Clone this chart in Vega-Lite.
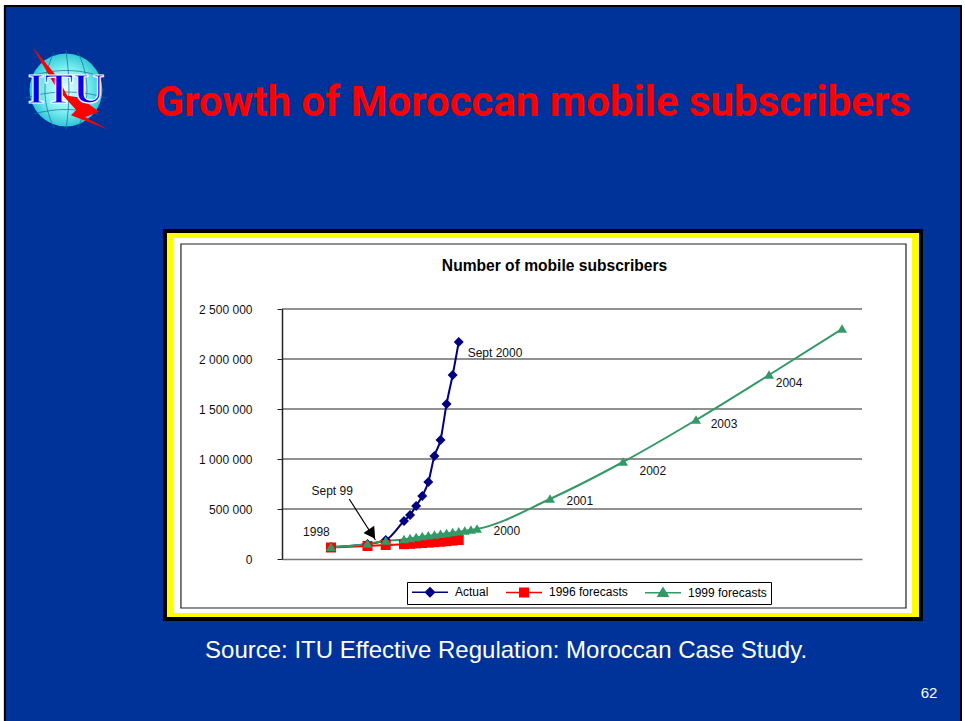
{"$schema":"https://vega.github.io/schema/vega-lite/v6.json","width":580,"height":250,"autosize":"none","padding":{"left":282,"top":309,"right":103,"bottom":162},"background":"#ffffff","resolve":{"scale":{"shape":"independent"}},"datasets":{"series":[{"k":0,"v":120000,"s":"Actual"},{"k":6,"v":150000,"s":"Actual"},{"k":9,"v":190000,"s":"Actual"},{"k":12,"v":380000,"s":"Actual"},{"k":13,"v":440000,"s":"Actual"},{"k":14,"v":530000,"s":"Actual"},{"k":15,"v":630000,"s":"Actual"},{"k":16,"v":770000,"s":"Actual"},{"k":17,"v":1030000,"s":"Actual"},{"k":18,"v":1190000,"s":"Actual"},{"k":19,"v":1550000,"s":"Actual"},{"k":20,"v":1840000,"s":"Actual"},{"k":21,"v":2170000,"s":"Actual"},{"k":0,"v":115000,"s":"1996 forecasts"},{"k":6,"v":130000,"s":"1996 forecasts"},{"k":9,"v":140000,"s":"1996 forecasts"},{"k":12,"v":148000,"s":"1996 forecasts"},{"k":13,"v":152000,"s":"1996 forecasts"},{"k":14,"v":156000,"s":"1996 forecasts"},{"k":15,"v":160000,"s":"1996 forecasts"},{"k":16,"v":164000,"s":"1996 forecasts"},{"k":17,"v":168000,"s":"1996 forecasts"},{"k":18,"v":173000,"s":"1996 forecasts"},{"k":19,"v":178000,"s":"1996 forecasts"},{"k":20,"v":184000,"s":"1996 forecasts"},{"k":21,"v":190000,"s":"1996 forecasts"},{"k":0,"v":118000,"s":"1999 forecasts"},{"k":6,"v":150000,"s":"1999 forecasts"},{"k":9,"v":180000,"s":"1999 forecasts"},{"k":12,"v":195000,"s":"1999 forecasts"},{"k":13,"v":205000,"s":"1999 forecasts"},{"k":14,"v":215000,"s":"1999 forecasts"},{"k":15,"v":224000,"s":"1999 forecasts"},{"k":16,"v":232000,"s":"1999 forecasts"},{"k":17,"v":240000,"s":"1999 forecasts"},{"k":18,"v":248000,"s":"1999 forecasts"},{"k":19,"v":256000,"s":"1999 forecasts"},{"k":20,"v":264000,"s":"1999 forecasts"},{"k":21,"v":272000,"s":"1999 forecasts"},{"k":22,"v":280000,"s":"1999 forecasts"},{"k":23,"v":290000,"s":"1999 forecasts"},{"k":24,"v":300000,"s":"1999 forecasts"},{"k":36,"v":600000,"s":"1999 forecasts"},{"k":48,"v":970000,"s":"1999 forecasts"},{"k":60,"v":1390000,"s":"1999 forecasts"},{"k":72,"v":1840000,"s":"1999 forecasts"},{"k":84,"v":2300000,"s":"1999 forecasts"}],"labels":[{"k":-2.4,"v":270000,"t":"1998"},{"k":0.2,"v":680000,"t":"Sept 99"},{"k":26.96,"v":2060000,"t":"Sept 2000"},{"k":28.9,"v":280000,"t":"2000"},{"k":40.9,"v":580000,"t":"2001"},{"k":52.9,"v":880000,"t":"2002"},{"k":64.6,"v":1350000,"t":"2003"},{"k":75.3,"v":1760000,"t":"2004"}],"arrow":[{"k":3,"v":600000,"k2":7.3,"v2":190000}],"arrowhead":[{"k":6.74,"v":250000}],"slideFill":[{"k":-53.6,"k2":103.55,"v":5530000,"v2":-1810000}],"outer":[{"k":-27.61,"k2":97.3,"v":3300000,"v2":-620000}],"yellow":[{"k":-26.96,"k2":96.65,"v":3260000,"v2":-580000}],"white":[{"k":-25.81,"k2":95.5,"v":3210000,"v2":-540000}],"inner":[{"k":-24.66,"k2":94.51,"v":3150000,"v2":-490000}],"chartTitle":[{"k":36.74,"v":2930000,"t":"Number of mobile subscribers"}],"heading":[{"k":33.2,"v":4560000,"t":"Growth of Moroccan mobile subscribers"}],"source":[{"k":-20.7,"v":-920000,"t":"Source: ITU Effective Regulation: Moroccan Case Study."}],"page":[{"k":98.3,"v":-1340000,"t":"62"}],"globe":[{"k":-43.56,"v":4690000}],"bolt":[{"k":-43.9,"v":4720000}],"logoText":[{"k":-43.56,"v":4690000,"t":"ITU"}]},"config":{"view":{"stroke":null},"font":"Liberation Sans"},"layer":[{"data":{"name":"series"},"mark":{"type":"point","filled":true,"clip":true},"encoding":{"x":{"field":"k","type":"quantitative","scale":{"domain":[-8.05,87.28],"nice":false,"zero":false},"axis":{"zindex":1,"labels":false,"ticks":false,"grid":false,"title":null,"domainColor":"#777777","domainWidth":1.5}},"y":{"field":"v","type":"quantitative","scale":{"domain":[0,2500000],"nice":false,"zero":false},"axis":{"zindex":1,"values":[0,500000,1000000,1500000,2000000,2500000],"title":null,"domain":true,"domainColor":"#222222","domainWidth":1.5,"ticks":true,"tickColor":"#222222","tickSize":5,"labelPadding":25,"labelFont":"Liberation Sans","labelFontSize":12,"labelColor":"#111111","labelExpr":"replace(format(datum.value,','),/,/g,' ')","grid":false}},"fill":{"field":"s","type":"nominal","sort":["Actual","1996 forecasts","1999 forecasts"],"scale":{"domain":["Actual","1996 forecasts","1999 forecasts"],"range":["#000080","#ff0000","#339966"]},"legend":null},"shape":{"field":"s","type":"nominal","sort":["Actual","1996 forecasts","1999 forecasts"],"scale":{"domain":["Actual","1996 forecasts","1999 forecasts"],"range":["M-1,0L1.7,0L2.6,-0.9L3.5,0L6.2,0L3.5,0L2.6,0.9L1.7,0Z","M-1,0L1.75,0L1.75,-0.85L3.45,-0.85L3.45,0L6.2,0L3.45,0L3.45,0.85L1.75,0.85L1.75,0Z","M-1,0L2.02,0L2.6,-0.95L3.18,0L6.2,0L3.18,0L3.6,0.7L1.6,0.7L2.02,0Z"]},"title":null,"legend":{"orient":"none","legendX":125,"legendY":273,"direction":"horizontal","columns":3,"title":null,"fillColor":"#ffffff","strokeColor":"#000000","padding":4,"labelFont":"Liberation Sans","labelFontSize":12,"labelColor":"#000000","symbolSize":100,"columnPadding":14,"labelOffset":32,"symbolOpacity":1,"encoding":{"symbols":{"fill":{"value":{"expr":"{'Actual':'#000080','1996 forecasts':'#ff0000','1999 forecasts':'#339966'}[datum.value]"}},"stroke":{"value":{"expr":"{'Actual':'#000080','1996 forecasts':'#ff0000','1999 forecasts':'#339966'}[datum.value]"}},"strokeWidth":{"value":1.5}}}}}}},{"data":{"name":"slideFill"},"mark":{"type":"rect","fill":"#003399","stroke":"#000000","strokeWidth":2,"clip":false},"encoding":{"x":{"field":"k","type":"quantitative"},"x2":{"field":"k2"},"y":{"field":"v","type":"quantitative"},"y2":{"field":"v2"}}},{"data":{"name":"outer"},"mark":{"type":"rect","fill":"#000000","clip":false},"encoding":{"x":{"field":"k","type":"quantitative"},"x2":{"field":"k2"},"y":{"field":"v","type":"quantitative"},"y2":{"field":"v2"}}},{"data":{"name":"yellow"},"mark":{"type":"rect","fill":"#ffff00","clip":false},"encoding":{"x":{"field":"k","type":"quantitative"},"x2":{"field":"k2"},"y":{"field":"v","type":"quantitative"},"y2":{"field":"v2"}}},{"data":{"name":"white"},"mark":{"type":"rect","fill":"#ffffff","clip":false},"encoding":{"x":{"field":"k","type":"quantitative"},"x2":{"field":"k2"},"y":{"field":"v","type":"quantitative"},"y2":{"field":"v2"}}},{"data":{"name":"inner"},"mark":{"type":"rect","fill":"#ffffff","stroke":"#222222","strokeWidth":1.2,"clip":false},"encoding":{"x":{"field":"k","type":"quantitative"},"x2":{"field":"k2"},"y":{"field":"v","type":"quantitative"},"y2":{"field":"v2"}}},{"data":{"values":[{"v":500000},{"v":1000000},{"v":1500000},{"v":2000000},{"v":2500000}]},"mark":{"type":"rule","color":"#222222","strokeWidth":1},"encoding":{"y":{"field":"v","type":"quantitative"}}},{"data":{"name":"series"},"mark":{"type":"line","interpolate":"monotone","strokeWidth":2,"clip":false},"encoding":{"x":{"field":"k","type":"quantitative"},"y":{"field":"v","type":"quantitative"},"stroke":{"field":"s","type":"nominal","legend":null,"sort":["Actual","1996 forecasts","1999 forecasts"],"scale":{"domain":["Actual","1996 forecasts","1999 forecasts"],"range":["#000080","#ff0000","#339966"]}},"order":{"field":"k"}}},{"data":{"name":"series"},"mark":{"type":"point","filled":true,"size":100,"opacity":1,"clip":false},"encoding":{"x":{"field":"k","type":"quantitative"},"y":{"field":"v","type":"quantitative"},"fill":{"field":"s","type":"nominal","legend":null,"sort":["Actual","1996 forecasts","1999 forecasts"]},"shape":{"field":"s","type":"nominal","legend":null,"scale":{"domain":["Actual","1996 forecasts","1999 forecasts"],"range":["diamond","square","M0,-0.95L1,0.75L-1,0.75Z"]}}}},{"data":{"name":"arrow"},"mark":{"type":"rule","color":"#000000","strokeWidth":1.2},"encoding":{"x":{"field":"k","type":"quantitative"},"x2":{"field":"k2"},"y":{"field":"v","type":"quantitative"},"y2":{"field":"v2"}}},{"data":{"name":"arrowhead"},"mark":{"type":"point","shape":"triangle-up","filled":true,"color":"#000000","size":170,"angle":146,"opacity":1},"encoding":{"x":{"field":"k","type":"quantitative"},"y":{"field":"v","type":"quantitative"}}},{"data":{"name":"labels"},"mark":{"type":"text","font":"Liberation Sans","fontSize":12,"color":"#111111","align":"center","baseline":"middle"},"encoding":{"x":{"field":"k","type":"quantitative"},"y":{"field":"v","type":"quantitative"},"text":{"field":"t"}}},{"data":{"name":"chartTitle"},"mark":{"type":"text","font":"Liberation Sans","fontWeight":"bold","fontSize":15.6,"color":"#000000","align":"center","baseline":"middle"},"encoding":{"x":{"field":"k","type":"quantitative"},"y":{"field":"v","type":"quantitative"},"text":{"field":"t"}}},{"data":{"name":"heading"},"mark":{"type":"text","font":"Roboto","fontWeight":"bold","fontSize":42,"color":"#ff0000","align":"center","baseline":"middle"},"encoding":{"x":{"field":"k","type":"quantitative"},"y":{"field":"v","type":"quantitative"},"text":{"field":"t"}}},{"data":{"name":"source"},"mark":{"type":"text","font":"Liberation Sans","fontSize":24,"color":"#ffffff","align":"left","baseline":"middle"},"encoding":{"x":{"field":"k","type":"quantitative"},"y":{"field":"v","type":"quantitative"},"text":{"field":"t"}}},{"data":{"name":"page"},"mark":{"type":"text","font":"Liberation Sans","fontSize":15,"color":"#ffffff","align":"center","baseline":"middle"},"encoding":{"x":{"field":"k","type":"quantitative"},"y":{"field":"v","type":"quantitative"},"text":{"field":"t"}}},{"data":{"name":"globe"},"mark":{"type":"point","shape":"circle","size":5300,"filled":true,"fill":{"gradient":"radial","stops":[{"offset":0,"color":"#e8ffff"},{"offset":0.6,"color":"#80f0f0"},{"offset":1,"color":"#30c8d8"}]},"opacity":1},"encoding":{"x":{"field":"k","type":"quantitative"},"y":{"field":"v","type":"quantitative"}}},{"data":{"name":"globe"},"mark":{"type":"point","shape":"M-0.95,-0.3C-0.4,-0.55 0.4,-0.55 0.95,-0.3M-1,0.2C-0.4,0 0.4,0 1,0.2M-0.8,0.6C-0.3,0.45 0.3,0.45 0.8,0.6M-0.3,-0.95C-0.6,-0.3 -0.6,0.3 -0.3,0.95M0.3,-0.95C0.6,-0.3 0.6,0.3 0.3,0.95M0,-1C0.1,-0.3 0.1,0.3 0,1","size":6400,"filled":false,"color":"#1a6a9a","strokeWidth":0.7,"opacity":1},"encoding":{"x":{"field":"k","type":"quantitative"},"y":{"field":"v","type":"quantitative"}}},{"data":{"name":"bolt"},"mark":{"type":"point","shape":"M-0.9,-1.15L-0.2,-0.3L0.1,0.25L0.45,0.3L1,0.7L0.6,0.85L1.25,1.2L0.2,0.8L0.35,0.65L-0.2,0.05L-0.55,-0.55Z","size":5000,"filled":true,"color":"#ff0000","opacity":1},"encoding":{"x":{"field":"k","type":"quantitative"},"y":{"field":"v","type":"quantitative"}}},{"data":{"name":"logoText"},"mark":{"type":"text","font":"Liberation Serif","fontWeight":"bold","fontSize":43,"fill":"#0000ee","stroke":"#ffffff","strokeWidth":1.2,"align":"center","baseline":"middle"},"encoding":{"x":{"field":"k","type":"quantitative"},"y":{"field":"v","type":"quantitative"},"text":{"field":"t"}}}]}
